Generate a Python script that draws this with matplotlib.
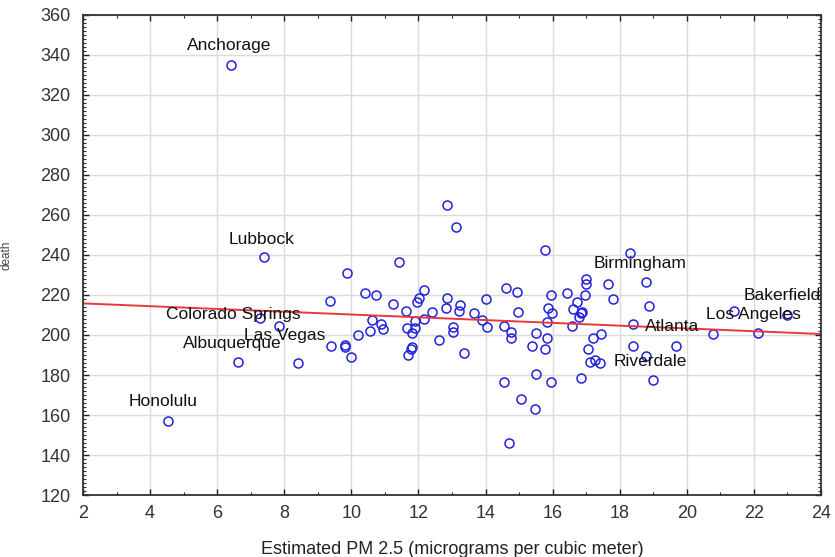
import numpy as np
import matplotlib
matplotlib.use('Agg')
import matplotlib.pyplot as plt
from matplotlib.ticker import MultipleLocator

plt.rcParams['font.family'] = ['Liberation Sans', 'DejaVu Sans']

# estimated PM 2.5 per city and death rate
pm25 = [4.52, 6.42, 6.61, 7.28, 7.40, 7.83, 8.40, 9.35, 9.39, 9.82,
        9.82, 9.98, 9.87, 10.19, 10.40, 10.72, 10.55, 10.63, 10.87, 10.93,
        11.24, 11.41, 11.64, 11.66, 11.91, 11.81, 11.81, 11.78, 11.69, 11.91,
        11.96, 12.01, 12.18, 12.41, 12.16, 12.61, 12.86, 12.83, 13.04, 13.04,
        13.23, 13.20, 13.35, 12.84, 13.13, 14.00, 13.65, 13.90, 14.05, 14.60,
        14.93, 14.55, 14.75, 14.75, 14.96, 14.55, 15.07, 15.46, 14.70, 15.51,
        15.94, 15.39, 15.77, 15.51, 15.84, 15.84, 15.94, 15.86, 15.99, 15.77,
        16.42, 16.59, 16.62, 16.74, 16.84, 16.79, 16.89, 16.96, 17.00, 17.00,
        17.66, 17.81, 18.30, 18.78, 18.88, 18.40, 18.40, 19.69, 18.78, 19.00,
        16.84, 17.06, 17.21, 17.45, 17.10, 17.25, 17.40, 20.77, 21.41, 22.11,
        23.00]
death = [156.8, 335.0, 186.7, 208.7, 239.0, 204.6, 185.8, 217.2, 194.5, 194.8,
         193.8, 189.2, 230.8, 200.2, 220.8, 220.0, 202.0, 207.3, 205.5, 202.8,
         215.5, 236.7, 212.0, 203.7, 203.3, 200.8, 193.8, 192.8, 190.2, 207.2,
         216.7, 218.3, 222.5, 211.7, 207.8, 197.5, 218.3, 213.3, 204.2, 201.7,
         214.8, 212.2, 191.2, 265.0, 254.2, 218.0, 210.8, 207.5, 203.8, 223.3,
         221.7, 204.7, 201.7, 198.3, 211.7, 176.7, 167.8, 163.2, 146.0, 180.7,
         176.7, 194.7, 193.0, 200.8, 198.3, 206.3, 220.0, 213.3, 210.8, 242.5,
         220.8, 204.7, 213.0, 216.7, 210.8, 209.2, 211.7, 220.0, 228.0, 225.3,
         225.3, 218.0, 240.8, 226.3, 214.5, 205.5, 194.7, 194.7, 189.5, 177.5,
         178.7, 192.8, 198.3, 200.3, 186.7, 187.5, 185.8, 200.3, 212.0, 200.8,
         210.0]

# fitted line as drawn
fit_x = [2, 24]
fit_y = [215.8, 200.5]

city_names = ['Anchorage', 'Lubbock', 'Colorado Springs', 'Las Vegas', 'Albuquerque',
              'Honolulu', 'Birmingham', 'Bakerfield', 'Los Angeles', 'Atlanta', 'Riverdale']
# where each name sits (data coords) and its alignment
name_x = [6.35, 7.33, 6.47, 8.00, 6.45, 4.38, 18.60, 21.70, 21.98, 19.56, 18.90]
name_y = [344.5, 247.8, 210.0, 199.5, 195.8, 166.7, 235.8, 219.5, 210.3, 204.2, 186.7]
name_ha = ['center'] * 7 + ['left'] + ['center'] * 3

fig = plt.figure(figsize=(8.35, 5.57), dpi=100)
ax = fig.add_axes([0.0994, 0.1113, 0.8838, 0.8618])

ax.grid(True, which='major', color='#dadada', linewidth=1)
ax.set_axisbelow(True)

ax.plot(pm25, death, linestyle='none', marker='o', markersize=6.5,
        markerfacecolor='none', markeredgecolor='#2222dd', markeredgewidth=1.1)
ax.plot(fit_x, fit_y, color='#e8383d', linewidth=1.4)

for name, tx, ty, ha in zip(city_names, name_x, name_y, name_ha):
    ax.text(tx, ty, name, ha=ha, va='center', fontsize=12.5, color='#111111', clip_on=True)

ax.set_xlim(2, 24)
ax.set_ylim(120, 360)
ax.xaxis.set_major_locator(MultipleLocator(2))
ax.xaxis.set_minor_locator(MultipleLocator(1))
ax.yaxis.set_major_locator(MultipleLocator(20))
ax.yaxis.set_minor_locator(MultipleLocator(2))

ax.tick_params(which='both', direction='in', top=True, right=True, colors='#222222',
               labelcolor='#333333', labelsize=13)
ax.tick_params(which='major', length=4, width=1)
ax.tick_params(which='minor', length=2, width=0.8)
ax.tick_params(axis='x', pad=7)
ax.tick_params(axis='y', pad=9)

for sp in ax.spines.values():
    sp.set_color('#333333')
    sp.set_linewidth(1.3)

ax.set_xlabel('Estimated PM 2.5 (micrograms per cubic meter)', fontsize=13, color='#222222')
ax.xaxis.set_label_coords(0.5, -0.095)
ax.set_ylabel('death', fontsize=8.5, color='#444444')
ax.yaxis.set_label_coords(-0.095, 0.5)

fig.savefig('out.png', dpi=100)
